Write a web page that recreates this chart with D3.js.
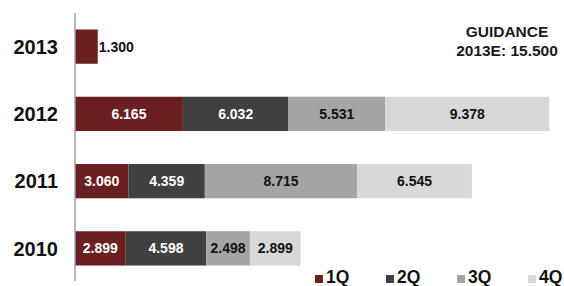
<!DOCTYPE html>
<html>
<head>
<meta charset="utf-8">
<script src="https://cdn.jsdelivr.net/npm/d3@7"></script>
<style>
  body { margin: 0; background: #fff; }
  text { font-family: "Liberation Sans", Arial, sans-serif; font-weight: bold; }
</style>
</head>
<body>
<script>
const width = 564;
const height = 286;

const years = ["2013", "2012", "2011", "2010"];
const quarters = ["1Q", "2Q", "3Q", "4Q"];
const q1 = [1.300, 6.165, 3.060, 2.899];
const q2 = [null, 6.032, 4.359, 4.598];
const q3 = [null, 5.531, 8.715, 2.498];
const q4 = [null, 9.378, 6.545, 2.899];
const guidance = ["GUIDANCE", "2013E: 15.500"];

const colors = ["#6a1f22", "#404040", "#a5a5a5", "#d8d8d8"];
const labelColors = ["#fff", "#fff", "#111", "#111"];

const fmt = (v) => v.toFixed(3);

const svg = d3.select("body").append("svg").attr("width", width).attr("height", height);

const x = d3.scaleLinear().domain([0, 30]).range([75, 600]);
const y = d3.scaleBand().domain(years).range([13, 282]).paddingInner(0.49).paddingOuter(0.245);

// stack the quarters per year
const rows = years.map((yr, i) => {
  const vals = [q1[i], q2[i], q3[i], q4[i]];
  let acc = 0;
  return vals
    .map((v, q) => {
      if (v == null) return null;
      const seg = { year: yr, q, v, x0: acc, x1: acc + v };
      acc += v;
      return seg;
    })
    .filter((d) => d);
});
const segs = rows.flat();

svg
  .selectAll("rect.bar")
  .data(segs)
  .enter()
  .append("rect")
  .attr("class", "bar")
  .attr("x", (d) => x(d.x0))
  .attr("y", (d) => y(d.year))
  .attr("width", (d) => x(d.x1) - x(d.x0))
  .attr("height", y.bandwidth())
  .attr("fill", (d) => colors[d.q]);

// value labels (2013 outside the bar)
svg
  .selectAll("text.val")
  .data(segs)
  .enter()
  .append("text")
  .attr("class", "val")
  .attr("x", (d) => (d.year === "2013" ? x(d.x1) + 1 : (x(d.x0) + x(d.x1)) / 2))
  .attr("y", (d) => y(d.year) + y.bandwidth() / 2)
  .attr("dy", "0.36em")
  .attr("text-anchor", (d) => (d.year === "2013" ? "start" : "middle"))
  .attr("font-size", 14)
  .attr("fill", (d) => (d.year === "2013" ? "#111" : labelColors[d.q]))
  .text((d) => fmt(d.v));

// axis line + year labels
svg
  .append("line")
  .attr("x1", x(0))
  .attr("x2", x(0))
  .attr("y1", 13)
  .attr("y2", 281)
  .attr("stroke", "#a0a0a0")
  .attr("stroke-width", 1.5);

svg
  .selectAll("text.year")
  .data(years)
  .enter()
  .append("text")
  .attr("class", "year")
  .attr("x", 58)
  .attr("y", (d) => y(d) + y.bandwidth() / 2)
  .attr("dy", "0.36em")
  .attr("text-anchor", "end")
  .attr("font-size", 20)
  .attr("fill", "#111")
  .text((d) => d);

// guidance note
svg
  .selectAll("text.guide")
  .data(guidance)
  .enter()
  .append("text")
  .attr("class", "guide")
  .attr("x", 507)
  .attr("y", (d, i) => 37 + i * 19)
  .attr("text-anchor", "middle")
  .attr("font-size", 15.5)
  .attr("fill", "#1a1a1a")
  .text((d) => d);

// legend
const legend = svg
  .selectAll("g.leg")
  .data(quarters)
  .enter()
  .append("g")
  .attr("class", "leg")
  .attr("transform", (d, i) => `translate(${315 + i * 71},275)`);

legend
  .append("rect")
  .attr("width", 8)
  .attr("height", 8)
  .attr("fill", (d, i) => colors[i]);

legend
  .append("text")
  .attr("x", 11)
  .attr("y", 7.5)
  .attr("font-size", 17.5)
  .attr("fill", "#111")
  .text((d) => d);
</script>
</body>
</html>
